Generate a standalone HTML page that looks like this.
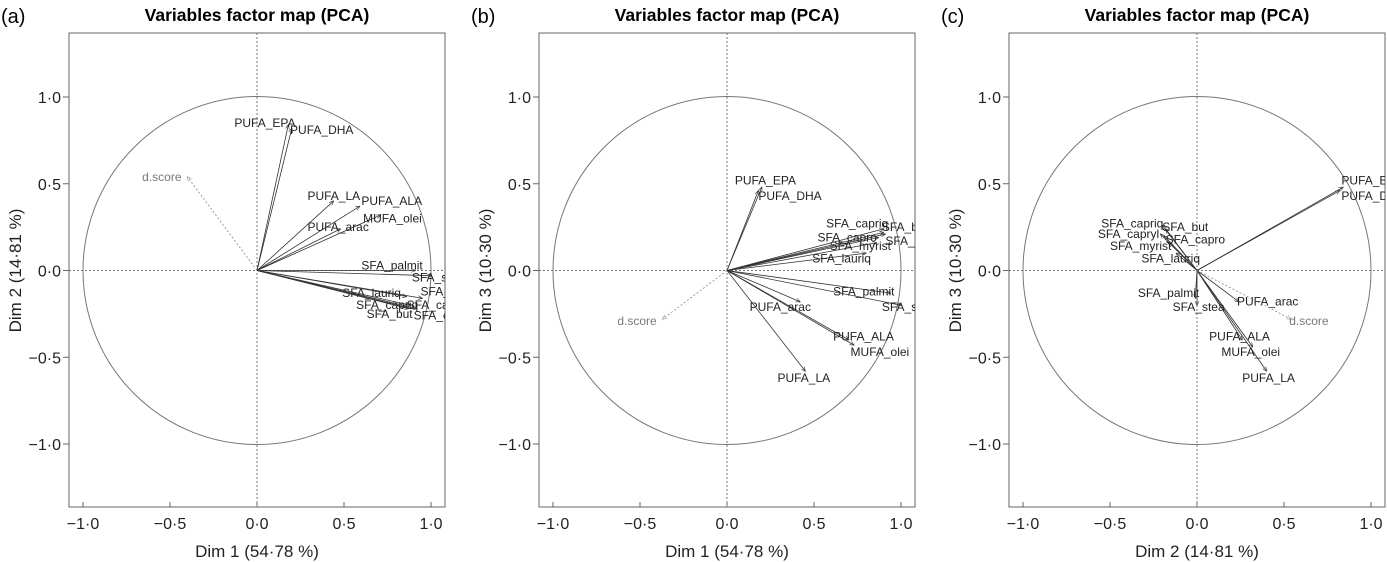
<!DOCTYPE html>
<html><head><meta charset="utf-8"><style>
body{margin:0;background:#fff;}
svg{display:block;font-family:"Liberation Sans",Arial,sans-serif;}
</style></head><body>
<svg id="chart" width="1387" height="562" viewBox="0 0 1387 562">
<defs>
<marker id="ah" viewBox="0 0 10 10" refX="9" refY="5" markerWidth="6" markerHeight="6" orient="auto"><path d="M0,1 L10,5 L0,9" fill="none" stroke="#333" stroke-width="1.2"/></marker>
<marker id="ahg" viewBox="0 0 10 10" refX="9" refY="5" markerWidth="6" markerHeight="6" orient="auto"><path d="M0,1 L10,5 L0,9" fill="none" stroke="#888" stroke-width="1.2"/></marker>
</defs>
</svg>
<script>
const ticks=[-1.0,-0.5,0.0,0.5,1.0];
const tickLabels=["\u22121·0","\u22120·5","0·0","0·5","1·0"];
const panelTags=["(a)","(b)","(c)"];
const xTitles=["Dim 1 (54·78 %)","Dim 1 (54·78 %)","Dim 2 (14·81 %)"];
const yTitles=["Dim 2 (14·81 %)","Dim 3 (10·30 %)","Dim 3 (10·30 %)"];
const varNames=["PUFA_EPA","PUFA_DHA","PUFA_LA","PUFA_ALA","MUFA_olei","PUFA_arac","SFA_palmit","SFA_stea","SFA_lauriq","SFA_myrist","SFA_capryl","SFA_capriq","SFA_but","SFA_capro","d.score"];
const panelAX=[0.18,0.20,0.44,0.59,0.71,0.48,0.91,1.00,0.86,0.95,0.88,0.85,0.87,0.92,-0.40];
const panelAY=[0.84,0.82,0.40,0.37,0.32,0.24,0.00,-0.03,-0.15,-0.16,-0.20,-0.21,-0.22,-0.22,0.54];
const panelBX=[0.20,0.18,0.45,0.70,0.73,0.42,0.94,1.00,0.80,0.86,0.91,0.90,0.90,0.87,-0.37];
const panelBY=[0.48,0.46,-0.58,-0.40,-0.43,-0.18,-0.13,-0.20,0.10,0.16,0.21,0.22,0.24,0.19,-0.28];
const panelCX=[0.84,0.82,0.40,0.26,0.32,0.24,-0.01,0.00,-0.12,-0.16,-0.21,-0.20,-0.18,-0.19,0.54];
const panelCY=[0.48,0.46,-0.58,-0.40,-0.44,-0.18,-0.16,-0.20,0.10,0.16,0.21,0.26,0.24,0.20,-0.28];
// label anchor positions (data units, text start)
const labAX=[-0.13,0.19,0.29,0.60,0.61,0.29,0.60,0.89,0.49,0.94,0.86,0.57,0.63,0.90,-0.66];
const labAY=[0.85,0.81,0.43,0.40,0.30,0.25,0.03,-0.04,-0.13,-0.12,-0.20,-0.20,-0.25,-0.26,0.54];
const labBX=[0.045,0.18,0.29,0.61,0.71,0.13,0.61,0.89,0.49,0.59,0.91,0.57,0.89,0.52,-0.63];
const labBY=[0.52,0.43,-0.62,-0.38,-0.47,-0.21,-0.12,-0.21,0.07,0.14,0.17,0.27,0.25,0.19,-0.29];
const labCX=[0.83,0.83,0.26,0.07,0.14,0.23,-0.34,-0.14,-0.32,-0.50,-0.57,-0.55,-0.20,-0.18,0.53];
const labCY=[0.52,0.43,-0.62,-0.38,-0.47,-0.18,-0.13,-0.21,0.07,0.14,0.21,0.27,0.25,0.18,-0.29];

const NS="http://www.w3.org/2000/svg";
const svg=document.getElementById('chart');
function mk(tag,attrs,parent,text){const e=document.createElementNS(NS,tag);for(const k in attrs)e.setAttribute(k,attrs[k]);if(text!==undefined)e.textContent=text;(parent||svg).appendChild(e);return e;}

const panels=[[panelAX,panelAY,labAX,labAY],[panelBX,panelBY,labBX,labBY],[panelCX,panelCY,labCX,labCY]];
const S=174, SY=173.5;
panels.forEach((p,i)=>{
  const off=i*470;
  const ox=257+off, oy=270.5;
  const left=69+off, right=445+off, top=33, bottom=507;
  const sx=v=>ox+v*S, sy=v=>oy-v*SY;
  const g=mk('g',{});
  
  
  const cp=mk('clipPath',{id:'cp'+i},g);
  mk('rect',{x:left,y:top,width:right-left,height:bottom-top},cp);
  const tag=mk('text',{x:off+1,y:23,'font-size':20},g,panelTags[i]);
  
  
  const t=mk('text',{x:(left+right)/2,y:21,'font-size':17.5,'font-weight':'bold','text-anchor':'middle'},g,'Variables factor map (PCA)');
  
  
  const box=mk('rect',{x:left,y:top,width:right-left,height:bottom-top,fill:'none',stroke:'#666','stroke-width':1},g);
  
  
  ticks.forEach((tv,k)=>{
    mk('line',{x1:sx(tv),x2:sx(tv),y1:bottom,y2:bottom-5,stroke:'#666'},g);
    const xl=mk('text',{x:sx(tv),y:529,'font-size':16,'text-anchor':'middle',fill:'#222'},g,tickLabels[k]);
    
    
    mk('line',{x1:left,x2:left-6,y1:sy(tv),y2:sy(tv),stroke:'#666'},g);
    const yl=mk('text',{x:left-8,y:sy(tv)+6,'font-size':16,'text-anchor':'end',fill:'#222'},g,tickLabels[k]);
    
    
  });
  const xt=mk('text',{x:ox,y:557,'font-size':17,'text-anchor':'middle',fill:'#222'},g,xTitles[i]);
  
  
  const yt=mk('text',{x:0,y:0,'font-size':17,'text-anchor':'middle',fill:'#222',transform:`translate(${off+21},${oy}) rotate(-90)`},g,yTitles[i]);
  
  
  const inner=mk('g',{'clip-path':`url(#cp${i})`},g);
  const circ=mk('circle',{cx:ox,cy:oy,r:S,fill:'none',stroke:'#777','stroke-width':1},inner);
  
  
  mk('line',{x1:left,x2:right,y1:oy,y2:oy,stroke:'#777','stroke-dasharray':'2,2'},inner);
  mk('line',{x1:ox,x2:ox,y1:top,y2:bottom,stroke:'#777','stroke-dasharray':'2,2'},inner);
  const [vx,vy,lx,ly]=p;
  varNames.forEach((n,k)=>{
    const sup=n==='d.score';
    const ln=mk('line',{x1:ox,y1:oy,x2:sx(vx[k]),y2:sy(vy[k]),stroke:sup?'#888':'#333','stroke-width':0.8,'stroke-dasharray':sup?'2,2':'none','marker-end':sup?'url(#ahg)':'url(#ah)'},inner);
    
    
    const lb=mk('text',{x:sx(lx[k]),y:sy(ly[k])+4,'font-size':12,fill:sup?'#777':'#222'},inner,n);
    
    
  });
});
</script>
</body></html>
